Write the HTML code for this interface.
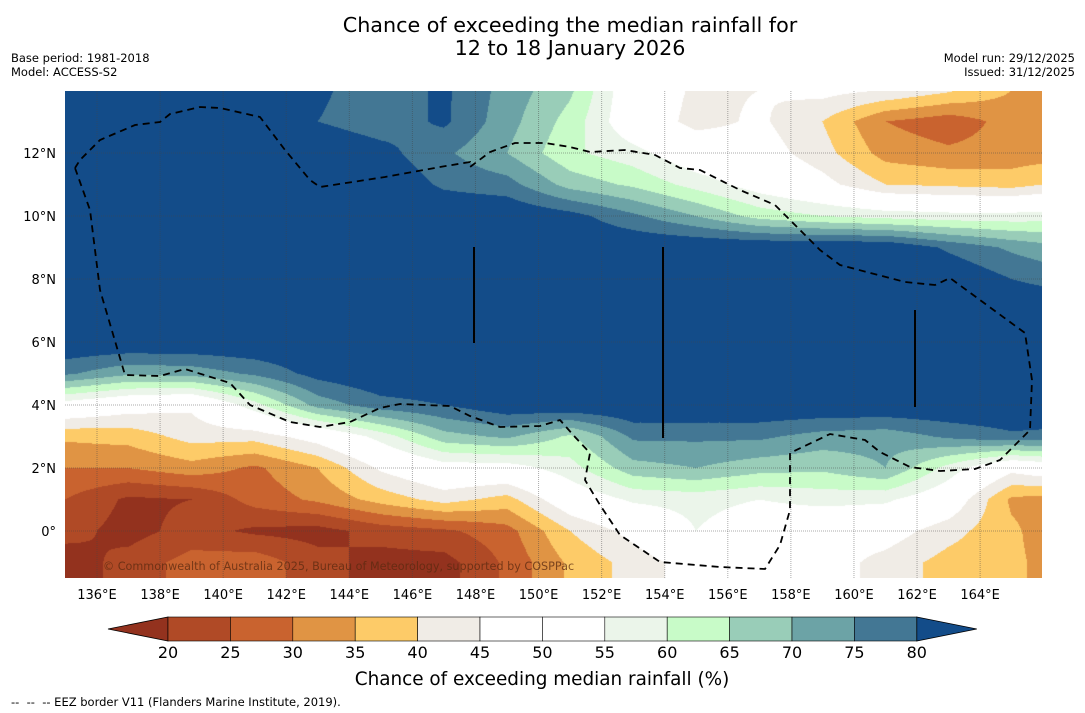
<!DOCTYPE html>
<html><head><meta charset="utf-8">
<style>
body{margin:0;background:#fff;width:1085px;height:713px;overflow:hidden;font-family:"Liberation Sans","DejaVu Sans",sans-serif;}
.t{position:absolute;white-space:nowrap;color:#000}
</style></head>
<body>
<div class="t" style="left:0;width:1140px;top:14px;text-align:center;font-size:20.7px;line-height:23px;font-family:'DejaVu Sans',sans-serif">Chance of exceeding the median rainfall for<br>12 to 18 January 2026</div>
<div class="t" style="left:11px;top:51px;font-size:11.5px;line-height:14px;font-family:'DejaVu Sans',sans-serif">Base period: 1981-2018<br>Model: ACCESS-S2</div>
<div class="t" style="right:10px;top:51px;font-size:11.5px;line-height:14px;text-align:right;font-family:'DejaVu Sans',sans-serif">Model run: 29/12/2025<br>Issued: 31/12/2025</div>
<canvas id="map" width="977" height="487" style="position:absolute;left:65px;top:91px"></canvas>
<svg id="ov" width="1085" height="713" style="position:absolute;left:0;top:0"></svg>
<div class="t" style="left:11px;top:695px;font-size:11.5px;font-family:'DejaVu Sans',sans-serif">--&nbsp; --&nbsp; -- EEZ border V11 (Flanders Marine Institute, 2019).</div>
<script>
const lonNodes=[135,137,139,141,143,145,147,149,151,153,155,157,159,161,163,165,167];
const latNodes=[14,13,12,11,10,9,8,7,6,5,4,3,2,1,0,-1,-2];
const grid=[
[85,85,85,85,81,77,81,73,66,50,44,45,47,45,41,35,32],
[85,85,85,85,80,77,81,72,63,50,43,46,40,30,27,32,34],
[85,85,85,85,85,82,76,70,61,57,50,48,42,33,31,32,33],
[85,85,85,85,85,85,79,77,68,64,58,52,47,40,39,38,42],
[85,85,85,85,85,85,85,85,82,76,70,63,60,58,57,57,58],
[85,85,85,85,85,85,85,85,85,85,85,85,85,85,79,74,70],
[85,85,85,85,85,85,85,85,85,85,85,85,85,85,85,80,77],
[85,85,85,85,85,85,85,85,85,85,85,85,85,85,85,85,85],
[85,85,85,85,85,85,85,85,85,85,85,85,85,85,85,85,85],
[76,71,72,76,82,85,85,85,85,85,85,85,85,85,85,85,85],
[52,48,46,58,72,78,80,84,85,85,85,85,85,85,85,85,85],
[36,37,42,42,48,57,68,71,64,76,76,76,73,72,76,79,78],
[30,30,33,29,35,46,52,52,58,68,70,67,66,70,58,47,52],
[25,19,20,27,31,37,42,38,50,56,57,55,57,56,50,34,32],
[22,18,22,19,18,22,24,28,40,47,55,50,48,48,42,36,30],
[17,22,27,28,22,18,18,26,36,42,48,47,48,43,38,36,32],
[17,22,27,28,22,18,18,26,36,42,48,47,48,43,38,36,32]];
const levels=[20,25,30,35,40,45,50,55,60,65,70,75,80];
const colors=["#93321e","#b04a26","#c9632f","#e09444","#fdcb68","#f0ece6","#ffffff","#ffffff","#ebf5ea","#c8fbc8","#99cdb8","#6ca3a6","#437794","#134c89"];
const xTicks=[136,138,140,142,144,146,148,150,152,154,156,158,160,162,164];
const yTicks=[0,2,4,6,8,10,12];
const cbLabels=[20,25,30,35,40,45,50,55,60,65,70,75,80];
const X=lon=>97+31.54*(lon-136), Y=lat=>531-31.5*lat;
const Xi=x=>136+(x-97)/31.54, Yi=y=>(531-y)/31.5;
function val(lon,lat){
  let fi=(lon-lonNodes[0])/2, fj=(latNodes[0]-lat);
  fi=Math.max(0,Math.min(lonNodes.length-1.001,fi)); fj=Math.max(0,Math.min(latNodes.length-1.001,fj));
  const i=Math.floor(fi),j=Math.floor(fj),a=fi-i,b=fj-j;
  return grid[j][i]*(1-a)*(1-b)+grid[j][i+1]*a*(1-b)+grid[j+1][i]*(1-a)*b+grid[j+1][i+1]*a*b;
}
function bin(v){let k=0;while(k<levels.length&&v>=levels[k])k++;return k;}
const rgb=colors.map(c=>[parseInt(c.substr(1,2),16),parseInt(c.substr(3,2),16),parseInt(c.substr(5,2),16)]);
const cv=document.getElementById('map'),ctx=cv.getContext('2d'),img=ctx.createImageData(977,487);
for(let py=0;py<487;py++)for(let px=0;px<977;px++){
  const k=bin(val(Xi(px+65.5),Yi(py+91.5)));const c=rgb[k],o=(py*977+px)*4;
  img.data[o]=c[0];img.data[o+1]=c[1];img.data[o+2]=c[2];img.data[o+3]=255;}
ctx.putImageData(img,0,0);
const NS='http://www.w3.org/2000/svg',svg=document.getElementById('ov');
function mk(tag,at,txt){const e=document.createElementNS(NS,tag);for(const k in at)e.setAttribute(k,at[k]);if(txt!==undefined)e.textContent=txt;svg.appendChild(e);return e;}
xTicks.forEach(t=>{const l=mk('line',{x1:X(t),x2:X(t),y1:91,y2:578,stroke:'#444','stroke-opacity':0.45,'stroke-width':1,'stroke-dasharray':'1,1'});


const tx=mk('text',{x:X(t),y:599,'font-size':13,'text-anchor':'middle','font-family':'DejaVu Sans,sans-serif'},t+'°E');

});
yTicks.forEach(t=>{const l=mk('line',{x1:65,x2:1042,y1:Y(t),y2:Y(t),stroke:'#444','stroke-opacity':0.45,'stroke-width':1,'stroke-dasharray':'1,1'});


const tx=mk('text',{x:56,y:Y(t)+5,'font-size':13,'text-anchor':'end','font-family':'DejaVu Sans,sans-serif'},t===0?'0°':t+'°N');

});
[[474,247,343],[663,247,438],[915,310,407]].forEach(s=>{const l=mk('line',{x1:s[0],x2:s[0],y1:s[1],y2:s[2],stroke:'#000','stroke-width':2});

});
const eez=mk('polyline',{points:"75,168 90,210 100,290 125,375 160,376 185,369 230,383 250,405 290,422 320,427 350,422 380,408 400,404 450,406 470,416 500,427 540,426 560,420 575,437 590,453 585,480 600,505 620,535 660,562 720,567 765,569 780,545 790,510 790,453 830,434 865,440 880,452 910,467 940,471 975,469 1000,460 1030,430 1032,380 1025,333 950,278 935,285 905,282 840,265 820,250 790,220 775,205 740,190 720,180 700,170 680,168 655,155 625,150 590,152 570,147 545,143 515,143 490,152 470,167 470,162 440,167 385,177 320,187 310,180 285,150 260,117 220,108 200,107 170,114 160,122 135,125 100,140 80,160 75,168",fill:'none',stroke:'#000','stroke-width':1.8,'stroke-dasharray':'7,5'});


const cp=mk('text',{x:103,y:570,'font-size':11.2,fill:'#5a2a10','fill-opacity':0.75,'font-family':'DejaVu Sans,sans-serif'},'© Commonwealth of Australia 2025, Bureau of Meteorology, supported by COSPPac');


const cb0=168,cbw=62.4,cy=617,ch=24;
const lt=mk('polygon',{points:`108,${cy+ch/2} ${cb0},${cy} ${cb0},${cy+ch}`,fill:colors[0],stroke:'#000','stroke-width':0.8});


for(let k=1;k<colors.length-1;k++){const r=mk('rect',{x:cb0+(k-1)*cbw,y:cy,width:cbw,height:ch,fill:colors[k],stroke:'#000','stroke-width':0.6});

}
const ex=cb0+(colors.length-2)*cbw;
const rt=mk('polygon',{points:`${ex},${cy} ${ex+60},${cy+ch/2} ${ex},${cy+ch}`,fill:colors[colors.length-1],stroke:'#000','stroke-width':0.8});


cbLabels.forEach((v,k)=>{const t=mk('text',{x:cb0+k*cbw,y:658,'font-size':16,'text-anchor':'middle','font-family':'DejaVu Sans,sans-serif'},v);

});
const ct=mk('text',{x:542,y:685,'font-size':18.4,'text-anchor':'middle','font-family':'DejaVu Sans,sans-serif'},'Chance of exceeding median rainfall (%)');


</script>
</body></html>
